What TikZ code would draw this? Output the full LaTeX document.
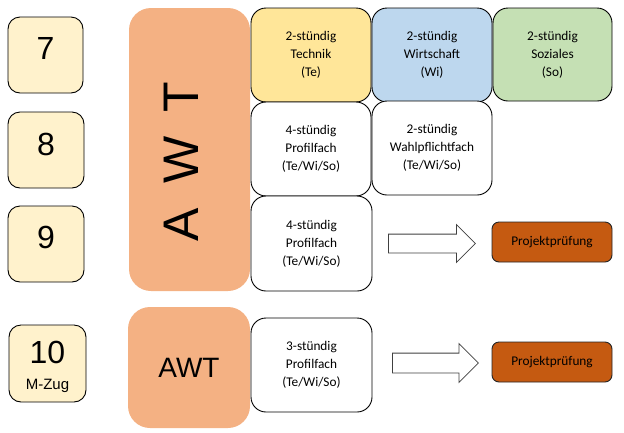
\documentclass[tikz,border=0pt]{standalone}
\usepackage{fontspec}
\setmainfont{Carlito}
\newfontfamily\arialf{Liberation Sans}
\usetikzlibrary{shapes.arrows}
\definecolor{yearfill}{HTML}{FFF2CC}
\definecolor{awtfill}{HTML}{F4B183}
\definecolor{tefill}{HTML}{FFE699}
\definecolor{wifill}{HTML}{BDD7EE}
\definecolor{sofill}{HTML}{C5E0B4}
\definecolor{projfill}{HTML}{C55A11}
\tikzset{
  yearbox/.style={draw=black, line width=0.9pt, fill=yearfill, rounded corners=12pt, inner sep=0pt,
    font=\arialf\fontsize{32}{32}\selectfont},
  awtbox/.style={fill=awtfill, rounded corners=22pt, inner sep=0pt},
  subjbox/.style={draw=black, line width=0.9pt, rounded corners=15pt, inner sep=0pt, align=center,
    font=\fontsize{13.3}{18}\selectfont, minimum width=120pt, minimum height=94pt},
  projbox/.style={draw=black!85, line width=0.9pt, fill=projfill, rounded corners=7pt, inner sep=0pt,
    font=\fontsize{13.3}{16}\selectfont, minimum width=120pt, minimum height=40pt},
  blockarrow/.style={single arrow, draw=black!75, line width=0.8pt, fill=white, inner xsep=0pt,
    text height=0pt, text depth=0pt, single arrow tip angle=90, single arrow head extend=9.5pt,
    anchor=tail},
}
\begin{document}
\begin{tikzpicture}[x=1pt,y=-1pt]
\useasboundingbox (0,0) rectangle (624,432);
% year boxes
\node[yearbox, minimum width=75pt, minimum height=76pt] (y7) at (45.5,55) {\raisebox{14pt}{7}};
\node[yearbox, minimum width=76pt, minimum height=76pt] (y8) at (46,150) {\raisebox{12pt}{8}};
\node[yearbox, minimum width=76pt, minimum height=76pt] (y9) at (46,244) {\raisebox{14pt}{9}};
\node[yearbox, minimum width=77pt, minimum height=77pt] (y10) at (47.5,363.5) {};
\node[font=\arialf\fontsize{32}{32}\selectfont, inner sep=0pt] (t10) at (47.5,352.5) {10};
\node[font=\arialf\fontsize{15}{15}\selectfont, inner sep=0pt, anchor=base] (mzug) at (47.5,389) {M-Zug};
% AWT boxes
\node[awtbox, minimum width=121pt, minimum height=283pt] (awt1) at (189.5,149.5) {};
\node[rotate=90, font=\arialf\fontsize{50}{50}\selectfont, inner sep=0pt] (awtlabel) at (181,161.5) {A\hspace{24pt}W\hspace{24pt}T};
\node[awtbox, minimum width=122pt, minimum height=121pt, font=\arialf\fontsize{28}{28}\selectfont] (awt2) at (189,367.5) {AWT};
% subject boxes
\node[subjbox, fill=tefill] (te) at (311,55) {2-stündig\\Technik\\(Te)};
\node[subjbox, fill=wifill] (wi) at (432,55) {2-stündig\\Wirtschaft\\(Wi)};
\node[subjbox, fill=sofill, minimum width=119pt, minimum height=93pt] (so) at (552.5,54.5) {2-stündig\\Soziales\\(So)};
\node[subjbox, fill=white] (p8) at (311,149) {4-stündig\\Profilfach\\(Te/Wi/So)};
\node[subjbox, fill=white] (wp) at (432,148) {2-stündig\\Wahlpflichtfach\\(Te/Wi/So)};
\node[subjbox, fill=white, minimum width=121pt, minimum height=95pt] (p9) at (311.5,243.5) {4-stündig\\Profilfach\\(Te/Wi/So)};
\node[subjbox, fill=white, minimum width=121pt] (p10) at (311.5,365) {3-stündig\\Profilfach\\(Te/Wi/So)};
% arrows
\node[blockarrow, inner ysep=9pt, minimum height=87pt] (ar1) at (388,243.5) {};
\node[blockarrow, inner ysep=9.5pt, minimum height=86pt] (ar2) at (392,363) {};
% Projektpruefung
\node[projbox] (pr1) at (552,242) {Projektprüfung};
\node[projbox] (pr2) at (552,362) {Projektprüfung};
\end{tikzpicture}
\end{document}
